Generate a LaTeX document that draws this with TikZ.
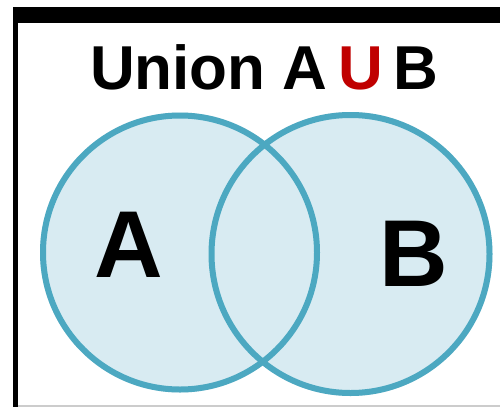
\documentclass[tikz,border=0pt]{standalone}
\usepackage{fontspec}
\setmainfont{Liberation Sans}
\usetikzlibrary{calc}
\definecolor{vfill}{HTML}{D8EBF2}
\definecolor{vline}{HTML}{4CA8C1}
\definecolor{vred}{HTML}{C00000}
\definecolor{vgrey}{HTML}{CCCCCC}
\begin{document}
\begin{tikzpicture}[x=1pt, y=-1pt, line width=6pt, font=\bfseries]
  % frame: 500 x 407, y runs downwards as in the image
  \useasboundingbox (0,0) rectangle (500,407);
  \fill[white] (0,0) rectangle (500,407);

  % border bands
  \fill[black] (13,7) rectangle (500,23);
  \fill[black] (13,7) rectangle (18,407);
  \fill[vgrey] (18,405) rectangle (500,407);

  % set discs (filled first, then both outlines on top)
  \fill[vfill] (180,252.5) circle[radius=140];
  \fill[vfill] (350.5,254) circle[radius=142];
  \draw[vline] (180,252.5) circle[radius=137];
  \draw[vline] (350.5,254) circle[radius=139];

  % title
  \node[anchor=base, inner sep=0pt, font=\bfseries\fontsize{62}{62}\selectfont]
    (title) at (264,89) {Union A\,\textcolor{vred}{U}\,B};

  % set labels
  \node[anchor=base, inner sep=0pt, font=\bfseries\fontsize{95}{95}\selectfont]
    (labA) at (129,277) {A};
  \node[anchor=base, inner sep=0pt, font=\bfseries\fontsize{95}{95}\selectfont]
    (labB) at (414,286) {B};
\end{tikzpicture}
\end{document}
